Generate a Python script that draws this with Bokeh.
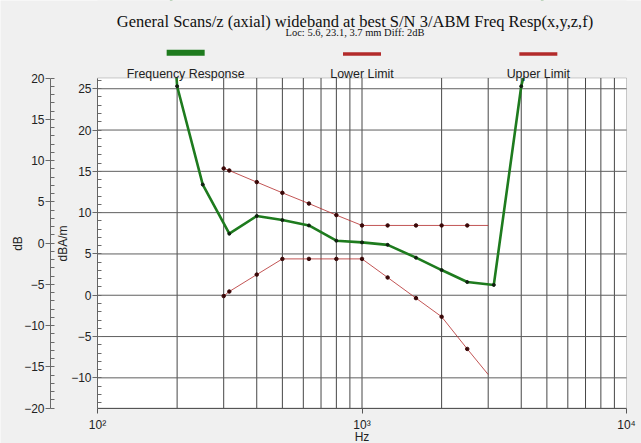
import math
from bokeh.plotting import figure
from bokeh.models import Range1d, LinearAxis, FixedTicker, BoxAnnotation
from bokeh.core.properties import value
from bokeh.embed import file_html
from bokeh.resources import INLINE

# ---- data ----
title_text = "General Scans/z (axial) wideband at best S/N 3/ABM Freq Resp(x,y,z,f)"
subtitle_text = "Loc: 5.6, 23.1, 3.7 mm Diff: 2dB"
legend_names = ["Frequency Response", "Lower Limit", "Upper Limit"]
x_label = "Hz"

resp_hz = [160, 200, 250, 315, 400, 500, 630, 800, 1000, 1250, 1600, 2000, 2500, 3150, 4000, 5000]
resp_dba = [70, 25.3, 13.4, 7.45, 9.6, 9.1, 8.45, 6.6, 6.4, 6.1, 4.55, 3.05, 1.6, 1.25, 25.3, 38]

limit_hz = [300, 315, 400, 500, 630, 800, 1000, 1250, 1600, 2000, 2500, 3000]
upper_dba = [15.35, 15.1, 13.7, 12.4, 11.1, 9.7, 8.45, 8.45, 8.45, 8.45, 8.45, 8.45]
lower_dba = [-0.1, 0.45, 2.5, 4.4, 4.4, 4.4, 4.4, 2.15, -0.35, -2.6, -6.5, -9.6]

x_major = [100, 1000, 10000]
x_tick_labels = ["10²", "10³", "10⁴"]
x_minor = [200, 300, 400, 500, 600, 700, 800, 900, 2000, 3000, 4000, 5000, 6000, 7000, 8000, 9000]
y_inner_major = [-10, -5, 0, 5, 10, 15, 20, 25]
y_inner_minor = list(range(-13, 27))
y_outer_major = [-20, -15, -10, -5, 0, 5, 10, 15, 20]
y_outer_minor = list(range(-20, 21))

# ---- geometry (page pixels; the whole canvas is the frame) ----
W, H = 641, 443
PL, PR, PT, PB = 97, 626, 77.5, 407.5          # plot-area edges
OUTER_AXIS_PX = 50
X_MIN, X_MAX = 100, 10000
Y_BOT, Y_TOP = -13.65, 26.3                     # dBA/m
DB_BOT, DB_TOP = -20, 20                        # dB
D = (PR - PL) / math.log10(X_MAX / X_MIN)       # px per decade
X_LEFT = 10 ** (math.log10(X_MIN) - PL / D)
X_RIGHT = 10 ** (math.log10(X_MAX) + (W - PR) / D)
X_OUTER = 10 ** (math.log10(X_MIN) - (PL - OUTER_AXIS_PX) / D)
K = (PB - PT) / (Y_TOP - Y_BOT)
K2 = (PB - PT) / (DB_TOP - DB_BOT)
Y_FRAME_TOP = Y_TOP + PT / K
Y_FRAME_BOT = Y_BOT - (H - PB) / K
DB_FRAME_TOP = DB_TOP + PT / K2
DB_FRAME_BOT = DB_BOT - (H - PB) / K2


def y_at(px_from_top):
    return Y_FRAME_TOP - px_from_top / K


GREEN = "#1e7b1e"
RED = "#b32b2b"
AX = "#6a6a6a"
TXT = "#222222"
BG = "#f0f0f0"
SANS = "Liberation Sans"
SERIF = "Liberation Serif"

p = figure(width=W, height=H, x_axis_type="log",
           x_range=Range1d(X_LEFT, X_RIGHT), y_range=Range1d(Y_FRAME_BOT, Y_FRAME_TOP),
           output_backend="svg", toolbar_location=None,
           min_border_left=0, min_border_right=0, min_border_top=0, min_border_bottom=0,
           background_fill_color=BG, border_fill_color=BG, outline_line_color=None)
p.extra_y_ranges = {"db": Range1d(DB_FRAME_BOT, DB_FRAME_TOP)}

# white plot area
p.add_layout(BoxAnnotation(left=X_MIN, right=X_MAX, bottom=Y_BOT, top=Y_TOP,
                           fill_color="white", fill_alpha=1, line_color=None, level="image"))

# x axis pinned to the bottom of the plot area
xa = p.xaxis[0]
xa.fixed_location = Y_BOT
xa.bounds = (X_MIN, X_MAX)
xa.ticker = FixedTicker(ticks=x_major, minor_ticks=x_minor)
xa.major_label_overrides = dict(zip(x_major, x_tick_labels))
xa.major_label_standoff = 5
xa.major_tick_out = 5
xa.major_tick_in = 0
xa.minor_tick_out = 0
xa.minor_tick_in = 0
xa.axis_line_color = "#555555"
xa.major_tick_line_color = "#555555"

# inner (dBA/m) axis at the plot's left edge
ya = p.yaxis[0]
ya.fixed_location = X_MIN
ya.bounds = (Y_BOT, Y_TOP)
ya.ticker = FixedTicker(ticks=y_inner_major, minor_ticks=y_inner_minor)
ya.axis_label = "dBA/m"
ya.axis_label_standoff = -2

# outer (dB) axis further left
yb = LinearAxis(y_range_name="db", bounds=(DB_BOT, DB_TOP), fixed_location=X_OUTER,
                ticker=FixedTicker(ticks=y_outer_major, minor_ticks=y_outer_minor),
                axis_label="dB", axis_label_standoff=-4)
p.add_layout(yb, "left")

for ax in (ya, yb):
    ax.major_tick_out = 5
    ax.major_tick_in = 0
    ax.minor_tick_out = 0
    ax.minor_tick_in = 4
    ax.major_label_standoff = 1
    ax.axis_line_color = AX
    ax.major_tick_line_color = AX
    ax.minor_tick_line_color = AX

for ax in (xa, ya, yb):
    ax.major_label_text_font = SANS
    ax.major_label_text_font_size = "12px"
    ax.major_label_text_color = TXT
    ax.axis_label_text_font = SANS
    ax.axis_label_text_font_size = "12px"
    ax.axis_label_text_font_style = "normal"
    ax.axis_label_text_color = TXT

# grid lines limited to the plot area
p.xgrid.visible = False
p.ygrid.visible = False
grid_x = x_minor + [1000]
p.segment(x0=grid_x, y0=[Y_BOT] * len(grid_x), x1=grid_x, y1=[Y_TOP] * len(grid_x),
          line_color="#474747", line_width=1, level="underlay")
p.segment(x0=[X_MIN] * len(y_inner_major), y0=y_inner_major,
          x1=[X_MAX] * len(y_inner_major), y1=y_inner_major,
          line_color="#5f5f5f", line_width=1, level="underlay")

# series
p.line(limit_hz, upper_dba, color=RED, line_width=1, line_alpha=0.8)
p.scatter(limit_hz[:-1], upper_dba[:-1], size=3.5, color="#3a0808")
p.line(limit_hz, lower_dba, color=RED, line_width=1, line_alpha=0.8)
p.scatter(limit_hz[:-1], lower_dba[:-1], size=3.5, color="#3a0808")
p.line(resp_hz, resp_dba, color=GREEN, line_width=2.6)
p.scatter(resp_hz, resp_dba, size=3, color="#102010")

# band above the plot area hides the off-scale part of the response, then the border
p.add_layout(BoxAnnotation(left=X_MIN, right=X_MAX, bottom=Y_TOP, top=Y_FRAME_TOP + 50,
                           fill_color=BG, fill_alpha=1, line_color=None, level="annotation"))
p.add_layout(BoxAnnotation(left=X_MIN, right=X_MAX, bottom=Y_BOT, top=Y_TOP,
                           fill_alpha=0, line_color="#555555", line_width=1, level="annotation"))

# header: title, subtitle, legend ; footer: x axis label
x_center = math.sqrt(X_MIN * X_MAX)
p.text(x=[x_center], y=[y_at(20.9)], x_offset=-7, text=[title_text], text_font=value(SERIF),
       text_font_size=value("16.5px"), text_color="#111111",
       text_align="center", text_baseline="alphabetic", level="overlay")
p.text(x=[x_center], y=[y_at(32.3)], x_offset=-7, text=[subtitle_text], text_font=value(SERIF),
       text_font_size=value("10.5px"), text_color="#111111",
       text_align="center", text_baseline="alphabetic", level="overlay")

span = math.log10(X_MAX / X_MIN)
legend_x = [10 ** (math.log10(X_MIN) + span * f) for f in (1 / 6, 1 / 2, 5 / 6)]
p.rect(x=legend_x, y=[y_at(52.2), y_at(53.4), y_at(53.4)], width=38, height=[6, 3.5, 3.5],
       width_units="screen", height_units="screen",
       fill_color=[GREEN, RED, RED], line_color=None, level="overlay")
p.text(x=legend_x, y=[y_at(73.2)] * 3, text=legend_names, text_font=value(SANS),
       text_font_size=value("12.4px"), text_color=TXT,
       text_align="center", text_baseline="alphabetic", level="overlay")
p.text(x=[x_center], y=[y_at(436)], text=[x_label], text_font=value(SANS),
       text_font_size=value("12px"), text_color=TXT,
       text_align="center", text_baseline="alphabetic", level="overlay")

open("out.html", "w").write(file_html(p, INLINE))
